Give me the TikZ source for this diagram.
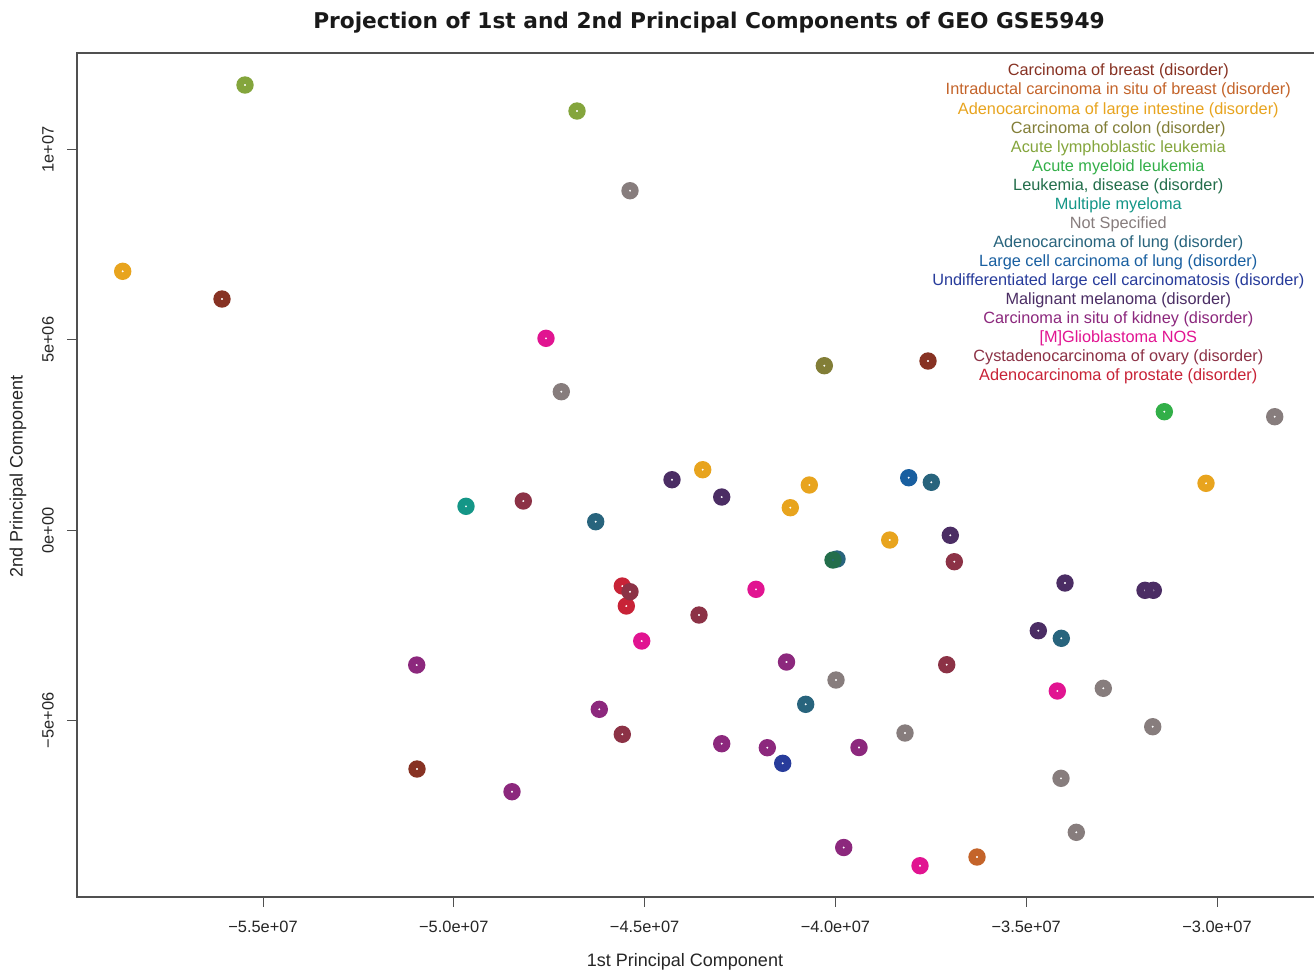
\documentclass[tikz,border=0pt]{standalone}
\usepackage{fontspec}
\setmainfont{Liberation Sans}
\newfontfamily\titlefont{DejaVu Sans}
\definecolor{cBreast}{RGB}{135,50,35}
\definecolor{cIntra}{RGB}{196,100,42}
\definecolor{cLargeInt}{RGB}{232,164,30}
\definecolor{cColon}{RGB}{130,126,55}
\definecolor{cALL}{RGB}{132,165,60}
\definecolor{cAML}{RGB}{50,175,72}
\definecolor{cLeuk}{RGB}{35,110,75}
\definecolor{cMyeloma}{RGB}{20,150,135}
\definecolor{cNotSpec}{RGB}{135,125,125}
\definecolor{cLungAd}{RGB}{40,100,125}
\definecolor{cLargeCell}{RGB}{25,95,160}
\definecolor{cUndiff}{RGB}{40,60,155}
\definecolor{cMelanoma}{RGB}{75,45,100}
\definecolor{cKidney}{RGB}{140,40,125}
\definecolor{cGlio}{RGB}{225,20,145}
\definecolor{cOvary}{RGB}{140,50,70}
\definecolor{cProstate}{RGB}{200,35,55}
\definecolor{axisgray}{RGB}{80,80,80}
\tikzset{
  ringmark/.style={fill=#1, even odd rule},
  legendtext/.style={text=#1, font=\fontsize{16.3}{18}\selectfont, inner sep=0pt, anchor=center},
  ticklab/.style={font=\fontsize{16.4}{18}\selectfont, text=black!85, inner sep=0pt},
  axtitle/.style={font=\fontsize{18}{20}\selectfont, text=black!85, inner sep=0pt},
  axisline/.style={draw=axisgray, line width=1.2pt},
}
\newcommand\ptset[2]{%
  \foreach \px/\py in {#2} {\fill[ringmark=#1] (\px,\py) circle[radius=8.7pt] circle[radius=1.3pt];}}
\begin{document}
\begin{tikzpicture}[x=1pt,y=-1pt]
\useasboundingbox (0,0) rectangle (1314,970);
\fill[white] (0,0) rectangle (1314,970);
% title
\node[font=\titlefont\bfseries\fontsize{21.7}{24}\selectfont, text=black!90, inner sep=0pt] (title) at (709,23) {Projection of 1st and 2nd Principal Components of GEO GSE5949};
% frame
\coordinate (tl) at (77,53);
\coordinate (bl) at (77,897);
\coordinate (tr) at (1314,53);
\coordinate (br) at (1314,897);
\draw[axisline] (tr) -- (tl) -- (bl) -- (br);
% x ticks
\foreach \tx/\tl [count=\i] in {263/{−5.5e+07}, 453.8/{−5.0e+07}, 644.6/{−4.5e+07}, 835.4/{−4.0e+07}, 1026.2/{−3.5e+07}, 1217/{−3.0e+07}} {
  \coordinate (xt\i) at (\tx,897);
  \draw[axisline, line width=1pt] (xt\i) -- ++(0,10);
  \node[ticklab] (xl\i) at (\tx,927) {\tl};
}
% y ticks
\foreach \ty/\tl [count=\i] in {149.5/{1e+07}, 339.8/{5e+06}, 530.2/{0e+00}, 720.5/{−5e+06}} {
  \coordinate (yt\i) at (77,\ty);
  \draw[axisline, line width=1pt] (yt\i) -- ++(-10,0);
  \node[ticklab, rotate=90] (yl\i) at (48,\ty) {\tl};
}
\node[axtitle] (xtitle) at (685,962) {1st Principal Component};
\node[axtitle, rotate=90] (ytitle) at (18,476) {2nd Principal Component};
% points
\ptset{cProstate}{622.3/586, 626.3/606}
\ptset{cLungAd}{837/559, 595.7/521.7, 931.3/482.3, 1061.3/638.3, 805.7/704.3}
\ptset{cBreast}{222/299, 417/769, 928/361}
\ptset{cIntra}{977/857}
\ptset{cLargeInt}{122.7/271.3, 702.7/469.7, 809.3/485, 790.3/507.7, 889.7/540, 1206/483.3}
\ptset{cColon}{824.3/365.7}
\ptset{cALL}{245/85, 577/111}
\ptset{cAML}{1164.3/411.7}
\ptset{cLeuk}{833/560}
\ptset{cMyeloma}{466/506.3}
\ptset{cNotSpec}{630/190.7, 561.3/391.7, 1274.7/416.7, 836/680, 905/733, 1103.3/688.3, 1152.7/726.7, 1061/778.3, 1076.3/832.3}
\ptset{cLargeCell}{908.7/477.7}
\ptset{cUndiff}{782.7/763.3}
\ptset{cMelanoma}{672/479.7, 721.7/497, 950.3/535.3, 1065/583, 1145/590.3, 1153.3/590.3, 1038.3/630.7}
\ptset{cKidney}{416.7/665, 599.3/709.3, 786.5/662, 721.7/743.7, 767.3/747.7, 859/747.5, 512/791.7, 843.7/847.5}
\ptset{cGlio}{546/338.3, 641.7/641, 756/589.3, 1057.3/691, 920/865.7}
\ptset{cOvary}{523.3/501, 630/591.7, 699/615, 954.3/561.7, 946.7/664.7, 622.3/734.3}
% legend
\foreach \lc/\lt [count=\i] in {
  cBreast/{Carcinoma of breast (disorder)},
  cIntra/{Intraductal carcinoma in situ of breast (disorder)},
  cLargeInt/{Adenocarcinoma of large intestine (disorder)},
  cColon/{Carcinoma of colon (disorder)},
  cALL/{Acute lymphoblastic leukemia},
  cAML/{Acute myeloid leukemia},
  cLeuk/{Leukemia, disease (disorder)},
  cMyeloma/{Multiple myeloma},
  cNotSpec/{Not Specified},
  cLungAd/{Adenocarcinoma of lung (disorder)},
  cLargeCell/{Large cell carcinoma of lung (disorder)},
  cUndiff/{Undifferentiated large cell carcinomatosis (disorder)},
  cMelanoma/{Malignant melanoma (disorder)},
  cKidney/{Carcinoma in situ of kidney (disorder)},
  cGlio/{[M]Glioblastoma NOS},
  cOvary/{Cystadenocarcinoma of ovary (disorder)},
  cProstate/{Adenocarcinoma of prostate (disorder)}} {
  \node[legendtext=\lc] (leg\i) at (1118.3, {71.7+(\i-1)*19.06}) {\lt};
}
\end{tikzpicture}
\end{document}
